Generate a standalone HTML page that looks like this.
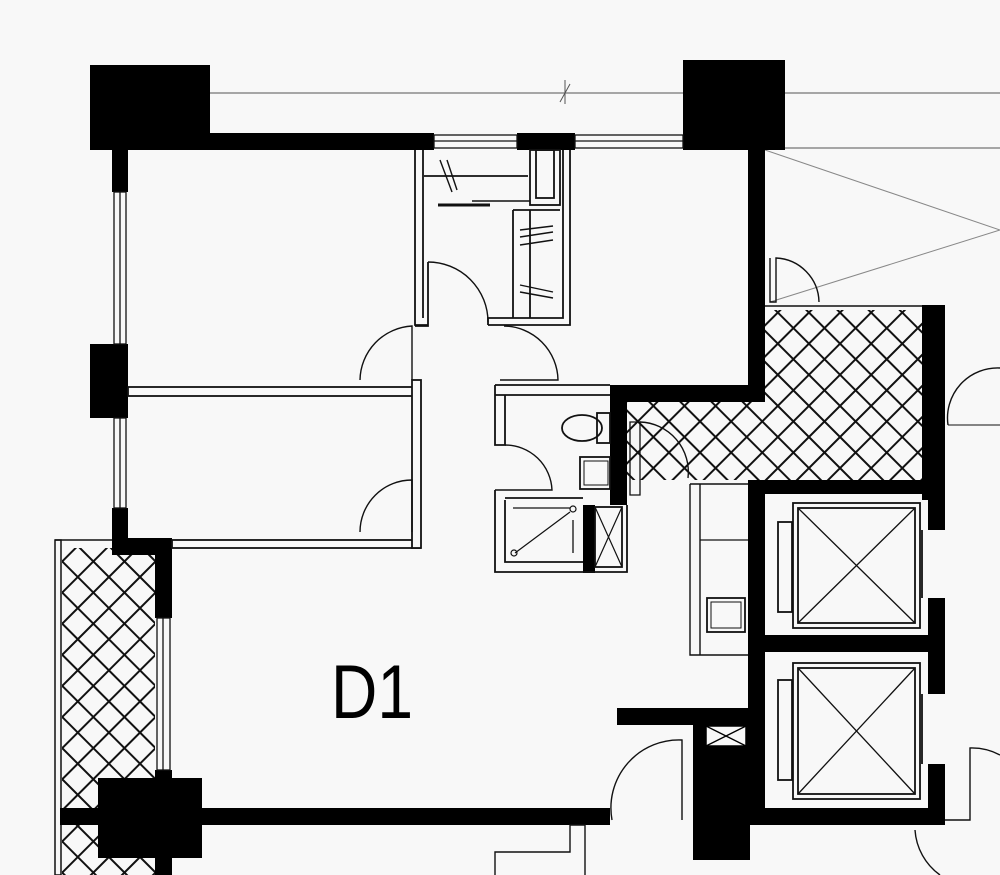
<!DOCTYPE html>
<html><head><meta charset="utf-8"><style>
html,body{margin:0;padding:0;background:#f8f8f8;}
svg{display:block}
</style></head><body>
<svg width="1000" height="875" viewBox="0 0 1000 875" xmlns="http://www.w3.org/2000/svg">
<defs>
<pattern id="h" width="22" height="22" patternUnits="userSpaceOnUse" patternTransform="rotate(45)">
<rect width="22" height="22" fill="#f8f8f8"/>
<rect x="0" y="0" width="22" height="2" fill="#111"/>
<rect x="0" y="0" width="2" height="22" fill="#111"/>
</pattern>
</defs>
<rect width="1000" height="875" fill="#f8f8f8"/>
<g stroke="#555" stroke-width="1" fill="none">
<line x1="210" y1="93" x2="683" y2="93"/>
<line x1="785" y1="93" x2="1000" y2="93"/>
<line x1="785" y1="148" x2="1000" y2="148"/>
<line x1="560" y1="102" x2="570" y2="84"/>
<line x1="565" y1="80" x2="565" y2="104"/>
<polyline points="765,150 1000,230 770,302" stroke="#888"/>
</g>
<rect x="62" y="548" width="93" height="327" fill="url(#h)"/>
<rect x="627" y="402" width="296" height="78" fill="url(#h)"/>
<rect x="765" y="310" width="158" height="92" fill="url(#h)"/>
<g fill="none" stroke="#111" stroke-width="1.5">
<rect x="55" y="540" width="6" height="335"/>
<line x1="55" y1="540" x2="120" y2="540"/>
<line x1="765" y1="306" x2="923" y2="306"/>
<line x1="690" y1="484" x2="748" y2="484"/>
</g>
<g fill="#000">
<rect x="90" y="65" width="120" height="85"/>
<rect x="683" y="60" width="102" height="90"/>
<rect x="210" y="133" width="224" height="17"/>
<rect x="517" y="133" width="58" height="17"/>
<rect x="112" y="150" width="16" height="42"/>
<rect x="90" y="344" width="38" height="74"/>
<rect x="112" y="508" width="16" height="46"/>
<rect x="112" y="538" width="60" height="17"/>
<rect x="155" y="538" width="17" height="80"/>
<rect x="748" y="150" width="17" height="252"/>
<rect x="610" y="385" width="155" height="17"/>
<rect x="610" y="385" width="17" height="120"/>
<rect x="922" y="305" width="23" height="195"/>
<rect x="748" y="480" width="197" height="14"/>
<rect x="748" y="480" width="17" height="345"/>
<rect x="928" y="480" width="17" height="50"/>
<rect x="928" y="598" width="17" height="54"/>
<rect x="928" y="652" width="17" height="42"/>
<rect x="928" y="764" width="17" height="60"/>
<rect x="748" y="635" width="197" height="17"/>
<rect x="748" y="808" width="197" height="17"/>
<rect x="617" y="708" width="133" height="17"/>
<rect x="693" y="708" width="57" height="152"/>
<rect x="60" y="808" width="550" height="17"/>
<rect x="98" y="778" width="104" height="80"/>
<rect x="155" y="770" width="17" height="105"/>
<rect x="583" y="505" width="12" height="68"/>
</g>
<rect x="706" y="726" width="40" height="20" fill="#f8f8f8" stroke="#000" stroke-width="1.5"/>
<path d="M706 726L746 746M746 726L706 746" stroke="#000" stroke-width="1.3"/>
<g fill="none" stroke="#111" stroke-width="1.3">
<rect x="434" y="135" width="83" height="13"/>
<line x1="434" y1="141" x2="517" y2="141"/>
<rect x="575" y="135" width="108" height="13"/>
<line x1="575" y1="141" x2="683" y2="141"/>
<rect x="114" y="192" width="12" height="152"/>
<line x1="120" y1="192" x2="120" y2="344"/>
<rect x="114" y="418" width="12" height="90"/>
<line x1="120" y1="418" x2="120" y2="508"/>
<rect x="157" y="618" width="13" height="152"/>
<line x1="163" y1="618" x2="163" y2="770"/>
</g>
<g fill="none" stroke="#111" stroke-width="1.8">
<rect x="128" y="387" width="287" height="9"/>
<rect x="172" y="540" width="248" height="8"/>
<rect x="412" y="380" width="9" height="168" fill="#f8f8f8"/>
<path d="M415 150V325H428"/><path d="M423 150V318"/>
<path d="M415 326H428V262"/>
<path d="M488 325V318H563V150"/><path d="M488 325H570V150"/>
<rect x="530" y="150" width="30" height="55"/>
<rect x="536" y="150" width="18" height="48"/>
<line x1="424" y1="176" x2="528" y2="176"/>
<line x1="513" y1="210" x2="513" y2="318"/>
<line x1="530" y1="210" x2="530" y2="318"/>
<line x1="513" y1="210" x2="560" y2="210"/>
<line x1="440" y1="160" x2="452" y2="192" stroke-width="1.4"/>
<line x1="447" y1="160" x2="457" y2="190" stroke-width="1.4"/>
<line x1="438" y1="205" x2="490" y2="205" stroke-width="3"/>
<line x1="472" y1="201" x2="530" y2="201" stroke-width="1.5"/>
<line x1="520" y1="230" x2="553" y2="226" stroke-width="1.4"/>
<line x1="520" y1="237" x2="553" y2="232" stroke-width="1.4"/>
<line x1="520" y1="245" x2="553" y2="240" stroke-width="1.4"/>
<line x1="520" y1="285" x2="553" y2="292" stroke-width="1.4"/>
<line x1="520" y1="292" x2="553" y2="298" stroke-width="1.4"/>
<path d="M428 262A60 60 0 0 1 488 322" stroke-width="1.4"/>
<path d="M360 380A55 55 0 0 1 412 326V380" stroke-width="1.4"/>
<path d="M504 326A55 55 0 0 1 558 380H500" stroke-width="1.4"/>
<path d="M360 532A52 52 0 0 1 412 480V532" stroke-width="1.4"/>
<path d="M495 385H610M495 395H610"/>
<path d="M495 385V445H505V395"/>
<path d="M495 490V572H627V505"/><path d="M505 500V562H583"/>
<path d="M505 445A47 47 0 0 1 552 490H495" stroke-width="1.4"/>
<line x1="505" y1="498" x2="583" y2="498"/>
<ellipse cx="582" cy="428" rx="20" ry="13"/>
<rect x="597" y="413" width="13" height="30"/>
<rect x="580" y="457" width="30" height="32"/>
<rect x="584" y="461" width="24" height="24" stroke-width="1"/>
<line x1="513" y1="508" x2="570" y2="508" stroke-width="1.3"/>
<line x1="515" y1="553" x2="570" y2="512" stroke-width="1.2"/>
<circle cx="573" cy="509" r="3" stroke-width="1.2"/>
<circle cx="514" cy="553" r="3" stroke-width="1.2"/>
<line x1="573" y1="520" x2="573" y2="553" stroke-width="1.3"/>
<rect x="595" y="507" width="27" height="60"/>
<path d="M595 507L622 567M622 507L595 567" stroke-width="1.2"/>
<path d="M630 422H640V495H630Z" stroke-width="1.3"/>
<path d="M640 422A50 50 0 0 1 688 478" stroke-width="1.4"/>
<path d="M690 484V655H748M700 484V655" stroke-width="1.4"/>
<line x1="700" y1="540" x2="748" y2="540" stroke-width="1.3"/>
<rect x="707" y="598" width="38" height="34"/>
<rect x="711" y="602" width="30" height="26" stroke-width="1"/>
<rect x="793" y="503" width="127" height="125"/>
<rect x="798" y="508" width="117" height="115"/>
<path d="M798 508L915 623M915 508L798 623" stroke-width="1.3"/>
<rect x="778" y="522" width="14" height="90"/>
<rect x="793" y="663" width="127" height="136"/>
<rect x="798" y="668" width="117" height="126"/>
<path d="M798 668L915 794M915 668L798 794" stroke-width="1.3"/>
<rect x="778" y="680" width="14" height="100"/>
<line x1="922" y1="530" x2="922" y2="598"/><line x1="922" y1="694" x2="922" y2="764"/>
<path d="M770 258V302H776V258A45 45 0 0 1 819 302" stroke-width="1.4"/>
<path d="M612 820A68 68 0 0 1 682 740V820" stroke-width="1.4"/>
<path d="M948 425A50 50 0 0 1 1000 368" stroke-width="1.4"/>
<line x1="948" y1="425" x2="1000" y2="425" stroke-width="1"/>
<path d="M945 820H970V748A60 60 0 0 1 1000 755" stroke-width="1.4"/>
<path d="M915 830A60 60 0 0 0 940 875" stroke-width="1.4"/>
<path d="M495 875V852H570V825H585V875" stroke-width="1.4"/>
</g>
<text x="372" y="718" font-family="Liberation Sans, sans-serif" font-size="76" text-anchor="middle" fill="#000" textLength="82" lengthAdjust="spacingAndGlyphs">D1</text>
</svg>
</body></html>
